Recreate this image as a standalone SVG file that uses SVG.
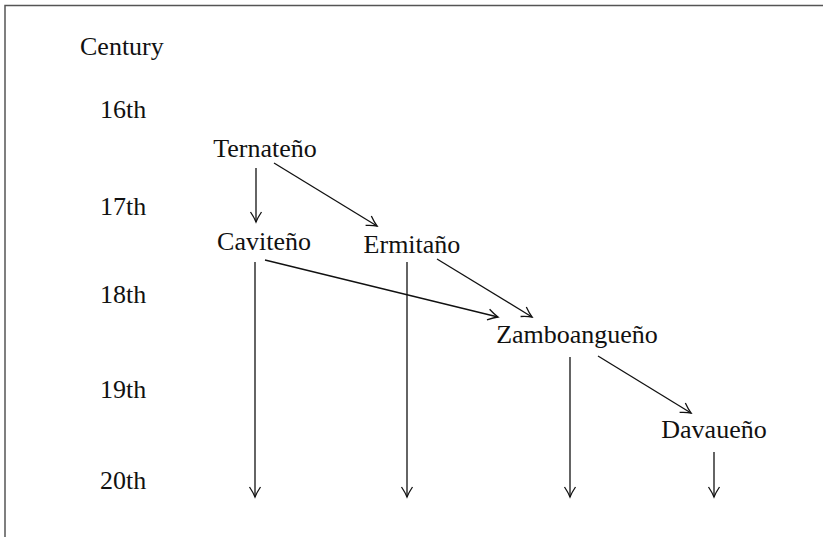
<svg xmlns="http://www.w3.org/2000/svg" width="823" height="537" viewBox="0 0 823 537">
<style>
text{font-family:"Liberation Serif","DejaVu Serif",serif;font-size:26px;fill:#111}
.n{text-anchor:middle}
.c{stroke:#111;stroke-width:1.3;fill:none;marker-end:url(#ah)}
</style>
<defs>
<marker id="ah" markerUnits="userSpaceOnUse" markerWidth="14" markerHeight="14" viewBox="-12 -7 14 14" refX="0" refY="0" orient="auto">
<path d="M-10,-5.5 Q-4,-1.5 0,0 Q-4,1.5 -10,5.5" fill="none" stroke="#111" stroke-width="1.3"/>
</marker>
</defs>
<rect width="823" height="537" fill="#fff"/>
<path d="M5,537 V5.5 H823" fill="none" stroke="#555" stroke-width="1.5"/>
<g id="axis">
<text x="80" y="55">Century</text>
<text x="100" y="118">16th</text>
<text x="100" y="215">17th</text>
<text x="100" y="303">18th</text>
<text x="100" y="398">19th</text>
<text x="100" y="489">20th</text>
</g>
<g id="ternateno"><text class="n" x="265" y="157">Ternateño</text></g>
<g id="caviteno"><text class="n" x="264" y="250">Caviteño</text></g>
<g id="ermitano"><text class="n" x="412" y="253">Ermitaño</text></g>
<g id="zamboangueno"><text class="n" x="577" y="343">Zamboangueño</text></g>
<g id="davaueno"><text class="n" x="714" y="438">Davaueño</text></g>
<g id="connectors">
<line class="c" x1="256" y1="168" x2="256" y2="222"/>
<line class="c" x1="274" y1="163" x2="377" y2="226"/>
<line class="c" x1="255" y1="262" x2="255" y2="497"/>
<line class="c" x1="265" y1="260" x2="498" y2="317"/>
<line class="c" x1="407" y1="262" x2="407" y2="497"/>
<line class="c" x1="437" y1="259" x2="532" y2="317"/>
<line class="c" x1="570" y1="357" x2="570" y2="497"/>
<line class="c" x1="598" y1="356" x2="691" y2="413"/>
<line class="c" x1="714" y1="452" x2="714" y2="497"/>
</g>
</svg>
